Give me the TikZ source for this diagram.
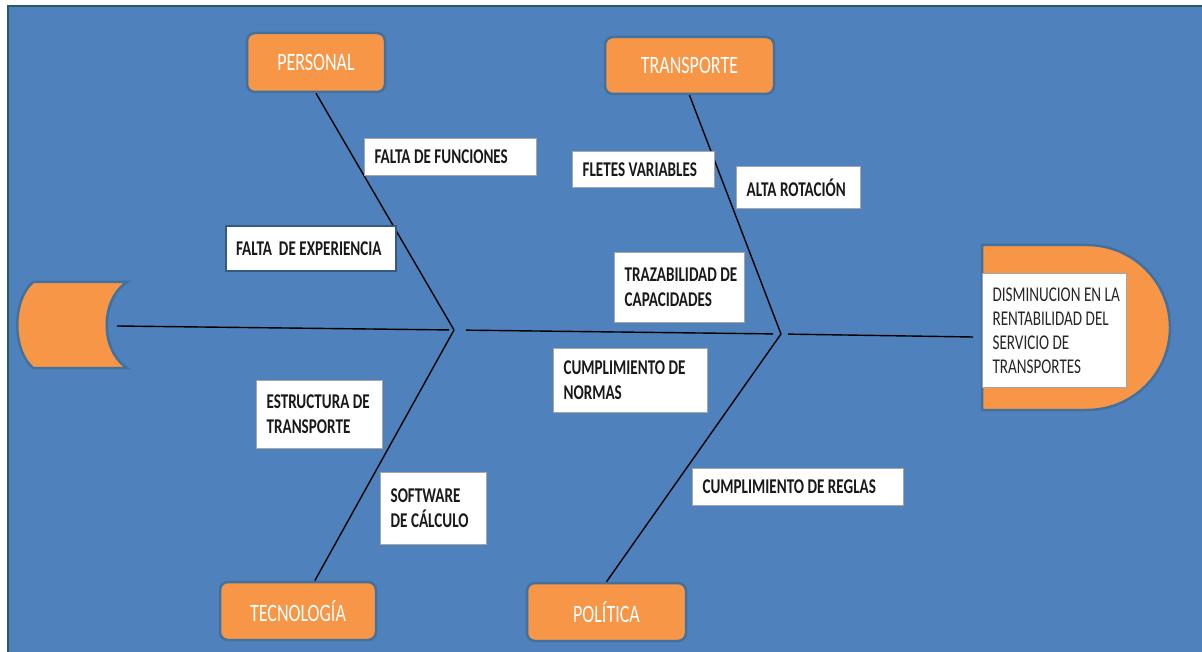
\documentclass[tikz,border=0pt]{standalone}
\usepackage{fontspec}
\setmainfont{Carlito}[FakeStretch=0.72]
\hyphenpenalty=10000
\definecolor{fondoc}{HTML}{4F81BD}
\definecolor{marcoc}{HTML}{255B67}
\definecolor{naranjac}{HTML}{F79646}
\definecolor{bordec}{HTML}{41719C}
\definecolor{causac}{HTML}{A6A6A6}
\tikzset{
  every node/.style = {execute at begin node={\spaceskip=3.5pt plus 1pt\relax}},
  categoria/.style = {draw=bordec, line width=2.5pt, fill=naranjac, rounded corners=8pt,
                      text=white, font=\fontsize{25}{29}\selectfont},
  causa/.style     = {draw=causac, line width=1.2pt, fill=white, anchor=north west,
                      align=left, inner xsep=10pt, inner ysep=2pt, text=black!90,
                      font=\fontsize{21}{25}\selectfont\bfseries},
  efectobox/.style = {draw=causac, line width=1.2pt, fill=white, anchor=north west,
                      align=left, inner xsep=10pt, inner ysep=2pt, text=black!85,
                      font=\fontsize{21}{24}\selectfont},
  forma/.style     = {draw=bordec, line width=2.5pt, fill=naranjac},
  espina/.style    = {line width=1.4pt, draw=black},
}

\begin{document}
\begin{tikzpicture}[x=1pt, y=-1pt]
\useasboundingbox (0,0) rectangle (1202,652);

% --- fondo ---------------------------------------------------------------
\fill[white] (0,0) rectangle (1202,652);
\draw[marcoc, line width=2.5pt, fill=fondoc] (8,6) rectangle (1215,665);

% --- cola y cabeza -------------------------------------------------------
\draw[forma] (33,282) -- (127,282) .. controls (100,300) and (100,350) .. (127,368)
  -- (33,368) .. controls (12,350) and (12,300) .. (33,282) -- cycle;
\draw[forma] (982,245) -- (1087,245) .. controls (1133,245) and (1170,282) .. (1170,327.5)
  .. controls (1170,373) and (1133,410) .. (1087,410) -- (982,410) -- cycle;

% --- categorias ----------------------------------------------------------
\node[categoria, minimum width=138pt, minimum height=59pt] (personal) at (316,62.5) {PERSONAL};
\node[categoria, minimum width=169pt, minimum height=57pt] (transporte) at (689.5,65.5) {TRANSPORTE};
\node[categoria, minimum width=156pt, minimum height=58pt] (tecno) at (298,611) {TECNOLOGÍA};
\node[categoria, minimum width=159pt, minimum height=58pt] (politica) at (606.5,612) {POLÍTICA};

% --- espina --------------------------------------------------------------
\coordinate (cola) at (117,326);
\coordinate (j1) at (454,330);
\coordinate (j2) at (781,334);
\coordinate (cabeza) at (973,337);
\draw[espina, shorten >=5pt] (cola) -- (j1);
\draw[espina, shorten <=12pt, shorten >=8pt] (j1) -- (j2);
\draw[espina, shorten <=7pt] (j2) -- (cabeza);
\draw[espina] (personal.south) -- (j1);
\draw[espina] (j1) -- (tecno);
\draw[espina] (transporte.south) -- (j2);
\draw[espina] (j2) -- (politica.north);

% --- causas --------------------------------------------------------------
\node[causa, text width=152pt, minimum height=37pt] (ffun) at (364,138) {FALTA~DE~FUNCIONES};
\node[causa, text width=150pt, minimum height=45pt, draw=bordec!80!black, line width=2pt] (fexp) at (225,225) {FALTA~~DE~EXPERIENCIA};
\node[causa, text width=122pt, minimum height=36pt] (flet) at (572,151) {FLETES~VARIABLES};
\node[causa, text width=104pt, minimum height=42pt] (arot) at (736,166) {ALTA~ROTACIÓN};
\node[causa, text width=110pt, minimum height=70pt] (traz) at (614,252) {TRAZABILIDAD~DE\\CAPACIDADES};
\node[causa, text width=134pt, minimum height=64pt] (cnor) at (553,348) {CUMPLIMIENTO~DE\\NORMAS};
\node[causa, text width=106pt, minimum height=68pt] (estr) at (256,380) {ESTRUCTURA~DE\\TRANSPORTE};
\node[causa, text width=86pt, minimum height=72pt] (soft) at (380,472) {SOFTWARE\\DE~CÁLCULO};
\node[causa, text width=191pt, minimum height=37pt] (creg) at (692,468) {CUMPLIMIENTO~DE~REGLAS};

% --- efecto --------------------------------------------------------------
\node[efectobox, text width=124pt, minimum height=114pt] (efecto) at (982,273)
  {DISMINUCION~EN~LA\\RENTABILIDAD~DEL\\SERVICIO~DE\\TRANSPORTES};

\end{tikzpicture}
\end{document}
